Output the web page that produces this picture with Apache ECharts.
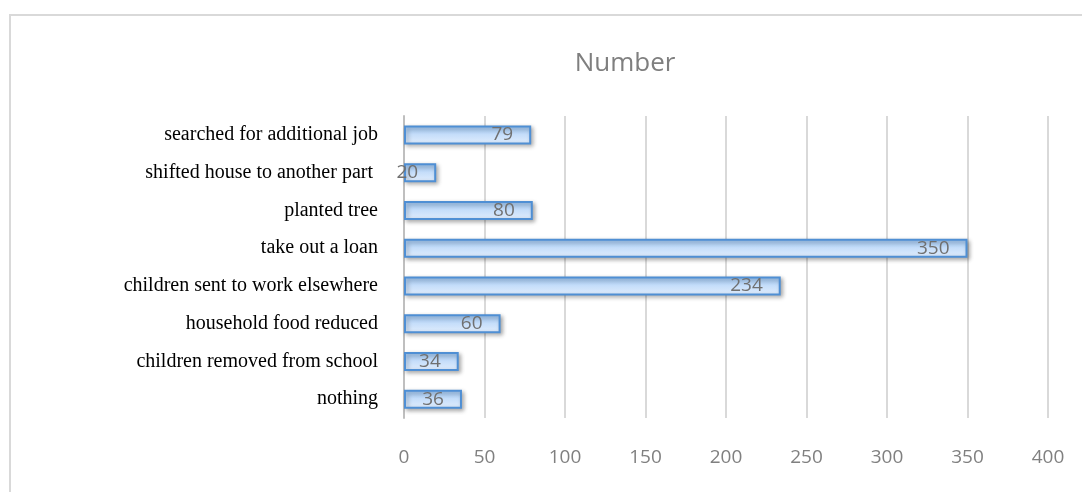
<!DOCTYPE html>
<html><head><meta charset="utf-8">
<script src="https://cdn.jsdelivr.net/npm/echarts@6/dist/echarts.min.js"></script>
<style>html,body{margin:0;padding:0;background:#fff;}#c{width:1082px;height:492px;}</style>
</head><body><div id="c"></div>
<script>
const categories = ["nothing","children removed from school","household food reduced","children sent to work elsewhere","take out a loan","planted tree","shifted house to another part ","searched for additional job"];
const values = [36,34,60,234,350,80,20,79];
const xTicks = [0,50,100,150,200,250,300,350,400];
const chart = echarts.init(document.getElementById('c'));
chart.setOption({
  backgroundColor:'#fff',
  title:{text:'Number',left:620,top:46,textAlign:'center',textStyle:{fontFamily:'Open Sans',fontWeight:'normal',fontSize:26,color:'#7f7f7f'}},
  graphic:[{type:'rect',shape:{x:10,y:15,width:1100,height:500},style:{fill:'none',stroke:'#d9d9d9',lineWidth:2}}],
  grid:{left:404,right:34,top:116,bottom:74},
  xAxis:{type:'value',min:xTicks[0],max:xTicks[xTicks.length-1],interval:50,
    axisLine:{show:false},axisTick:{show:false},
    axisLabel:{color:'#808080',fontFamily:'Open Sans',fontSize:19,margin:30},
    splitLine:{lineStyle:{color:'#d9d9d9',width:2}}},
  yAxis:{type:'category',data:categories,
    axisLine:{show:true,lineStyle:{color:'#bfbfbf',width:2}},axisTick:{show:false},
    axisLabel:{color:'#000',fontFamily:'Liberation Serif',fontSize:20,margin:26}},
  series:[{type:'bar',data:values,barWidth:19,
    itemStyle:{color:new echarts.graphic.LinearGradient(0,0,0,1,[{offset:0,color:'#9cc4f0'},{offset:0.5,color:'#c6defa'},{offset:1,color:'#e2eefd'}]),
      borderColor:'#4f8fd4',borderWidth:2,shadowColor:'rgba(0,0,0,0.3)',shadowBlur:4,shadowOffsetX:2,shadowOffsetY:2},
    label:{show:true,position:'insideRight',distance:18,color:'#707070',fontFamily:'Open Sans',fontSize:19}}]
});
</script></body></html>
